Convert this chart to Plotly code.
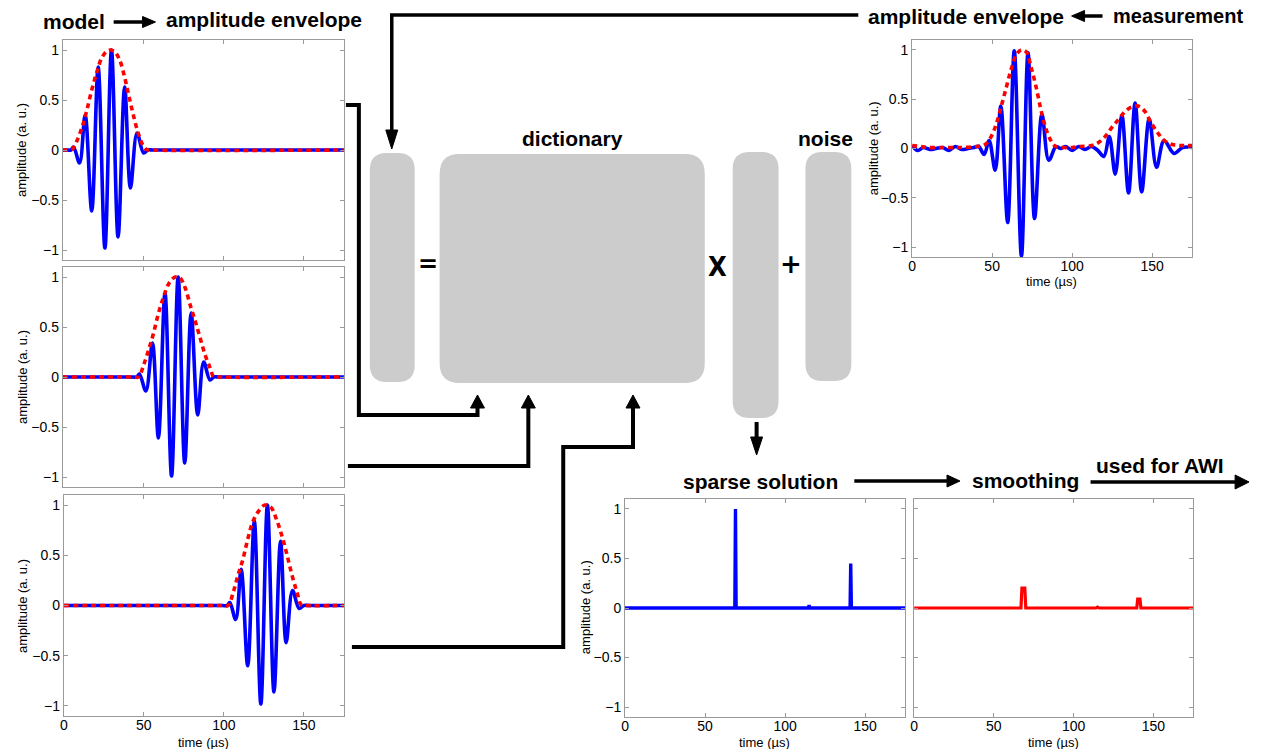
import plotly.graph_objects as go

W, H = 1266, 749

# ---------------- data ----------------
TICK_X = [0, 50, 100, 150]
TICK_Y = [-1, -0.5, 0, 0.5, 1]
TICK_Y_TEXT = ["\u22121", "\u22120.5", "0", "0.5", "1"]

# model wavelet 1 (top left)
tl_t = [0, 3, 5, 6.7, 10.4, 13.9, 18.0, 22.0, 26.2, 30.3, 34.4, 38.5, 42.1, 46.2, 50.3, 53, 56, 175]
tl_y = [0, 0, 0, 0.03, -0.13, 0.35, -0.61, 0.83, -0.98, 1.0, -0.87, 0.63, -0.38, 0.17, -0.03, 0, 0, 0]
tle_t = [0, 3, 5.5, 9, 12.4, 15, 18, 21.2, 24.2, 27.5, 30.0, 32.5, 35.4, 38.3, 41.0, 43.6, 46.7, 49.8, 52.0, 54.5, 175]
tle_y = [0, 0, 0, 0.1, 0.25, 0.4, 0.6, 0.78, 0.92, 0.99, 1.0, 0.98, 0.9, 0.74, 0.55, 0.37, 0.18, 0.05, 0.005, 0, 0]

# model wavelet 2 (middle left)
ml_t = [0, 43, 46, 47.7, 51.7, 55.8, 59.5, 63.6, 67.7, 71.8, 75.9, 79.9, 84.0, 87.7, 91.6, 94, 97, 175]
ml_y = [0, 0, 0, 0.03, -0.14, 0.34, -0.61, 0.84, -0.99, 1.0, -0.86, 0.64, -0.38, 0.15, -0.03, 0, 0, 0]
mle_t = [0, 44, 47.2, 50.3, 53.4, 56.5, 59.6, 62.7, 66.2, 70.0, 73.0, 76.2, 79.3, 82.4, 85.5, 88.6, 91.7, 93.8, 96.5, 175]
mle_y = [0, 0, 0, 0.12, 0.27, 0.44, 0.64, 0.80, 0.94, 1.0, 0.99, 0.89, 0.72, 0.56, 0.39, 0.22, 0.09, 0.005, 0, 0]

# model wavelet 3 (bottom left)
bl_t = [0, 99, 102, 103.7, 107.4, 110.8, 114.9, 119.0, 123.1, 127.2, 131.3, 135.4, 138.9, 142.9, 147.0, 150, 153, 175]
bl_y = [0, 0, 0, 0.03, -0.14, 0.36, -0.60, 0.84, -0.98, 1.0, -0.86, 0.64, -0.37, 0.15, -0.03, 0, 0, 0]
ble_t = [0, 99.5, 102.7, 105.8, 108.8, 111.9, 114.9, 118.0, 121.7, 125.6, 129.3, 132.8, 136.5, 139.5, 142.6, 145.7, 148.4, 151, 175]
ble_y = [0, 0, 0, 0.13, 0.30, 0.46, 0.66, 0.83, 0.94, 1.0, 0.98, 0.86, 0.68, 0.50, 0.30, 0.13, 0.005, 0, 0]

# measurement (top right)
m_t = [0, 3.5, 7, 11, 15, 19, 23, 27, 31, 35, 38.5, 41.6, 45, 48.1, 51.9, 55.4, 59.7, 63.8,
       68.3, 72.4, 76.5, 81.1, 85.4, 89.9, 92.8, 96, 100, 104, 108, 112, 116, 119.8, 123.2,
       126.9, 131, 135.2, 139.3, 143.4, 148.1, 152.7, 157.4, 163.6, 169, 175]
m_y = [0.03, -0.02, 0.01, -0.01, 0.0, 0.01, -0.02, 0.02, -0.01, 0.0, 0.01, 0.02, -0.06, 0.08,
       -0.22, 0.43, -0.75, 0.99, -1.09, 0.97, -0.71, 0.35, -0.12, 0.02, 0.0, 0.02, -0.02, 0.02,
       -0.01, 0.02, -0.02, -0.08, 0.12, -0.26, 0.34, -0.45, 0.46, -0.44, 0.30, -0.19, 0.08,
       -0.05, 0.01, 0.01]
me_t = [0, 5, 10, 20, 30, 40, 45.6, 49.7, 52.8, 55.9, 59, 62, 65.1, 68.2, 71.3, 74.4, 77.5,
        80.5, 83.6, 86.7, 89.7, 95, 100, 105, 112.3, 116.4, 120.5, 124.6, 128.7, 132.8, 137,
        141.1, 145.2, 149.3, 153.4, 157.5, 162.6, 167.8, 175]
me_y = [0.03, 0.02, 0.01, 0.01, 0.01, 0.02, 0.04, 0.13, 0.26, 0.44, 0.63, 0.81, 0.95, 1.0,
        0.98, 0.82, 0.62, 0.39, 0.2, 0.08, 0.02, 0.01, 0.01, 0.02, 0.03, 0.06, 0.12, 0.21,
        0.29, 0.37, 0.42, 0.43, 0.38, 0.26, 0.16, 0.08, 0.04, 0.03, 0.03]

# sparse solution
sp_t = [0, 68.6, 69, 69.4, 114.6, 115, 115.4, 140.6, 141, 141.4, 175]
sp_y = [0, 0, 1.0, 0, 0, 0.03, 0, 0, 0.45, 0, 0]

# smoothed solution
sm_t = [0, 67, 67.6, 69.4, 70, 114, 115, 116, 139.6, 140.2, 141.6, 142.2, 175]
sm_y = [0, 0, 0.2, 0.2, 0, 0, 0.01, 0, 0, 0.09, 0.09, 0, 0]

# ---------------- helpers ----------------
def px(x):
    return x / W

def py(y):
    return 1 - y / H

BLUE = "#0000ff"
RED = "#ff0000"
FRAME = "#9a9a9a"
TITLE_FONT = dict(family="Liberation Sans", size=21, color="black", weight="bold")
TICK_FONT = dict(family="Liberation Sans", size=14, color="black")
LABEL_FONT = dict(family="Liberation Sans", size=13, color="black")

fig = go.Figure()

# panel boxes in pixels: (left, top, right, bottom)
panels = {
    "1": (59, 40, 341, 260),
    "2": (59, 267, 341, 487),
    "3": (60, 495, 341, 716),
    "4": (911, 40, 1192, 257),
    "5": (623, 499, 904, 717),
    "6": (913, 499, 1193, 717),
}
xlabels = {"1": False, "2": False, "3": True, "4": True, "5": True, "6": True}
ylabels = {"1": True, "2": True, "3": True, "4": True, "5": True, "6": False}

for k, (l, t, r, b) in panels.items():
    xa = "xaxis" if k == "1" else "xaxis" + k
    ya = "yaxis" if k == "1" else "yaxis" + k
    fig.layout[xa] = dict(
        domain=[px(l), px(r)], anchor="y" if k == "1" else "y" + k,
        range=[0, 175], tickvals=TICK_X, showticklabels=xlabels[k],
        showline=True, linecolor=FRAME, linewidth=1, mirror="ticks",
        ticks="inside", ticklen=4, tickcolor=FRAME, showgrid=False, zeroline=False,
        tickfont=TICK_FONT, fixedrange=True, ticklabelstandoff=-4,
    )
    fig.layout[ya] = dict(
        domain=[py(b), py(t)], anchor="x" if k == "1" else "x" + k,
        range=[-1.1, 1.1], tickvals=TICK_Y, ticktext=TICK_Y_TEXT,
        showticklabels=ylabels[k],
        showline=True, linecolor=FRAME, linewidth=1, mirror="ticks",
        ticks="inside", ticklen=4, tickcolor=FRAME, showgrid=False, zeroline=False,
        tickfont=TICK_FONT, fixedrange=True,
    )

def ax(k):
    return ("x", "y") if k == "1" else ("x" + k, "y" + k)

def add_wave(k, t, y, color, dash=None, shape="spline", width=3.6):
    xr, yr = ax(k)
    line = dict(color=color, width=width, shape=shape)
    if shape == "spline":
        line["smoothing"] = 1.0
    if dash:
        line["dash"] = dash
    fig.add_trace(go.Scatter(x=t, y=y, mode="lines", line=line, xaxis=xr, yaxis=yr,
                             showlegend=False, hoverinfo="skip"))

DOT = "5px,4px"
add_wave("1", tl_t, tl_y, BLUE)
add_wave("1", tle_t, tle_y, RED, dash=DOT)
add_wave("2", ml_t, ml_y, BLUE)
add_wave("2", mle_t, mle_y, RED, dash=DOT)
add_wave("3", bl_t, bl_y, BLUE)
add_wave("3", ble_t, ble_y, RED, dash=DOT)
add_wave("4", m_t, m_y, BLUE)
add_wave("4", me_t, me_y, RED, dash=DOT)
add_wave("5", sp_t, sp_y, BLUE, shape="linear", width=3.4)
add_wave("6", sm_t, sm_y, RED, shape="linear", width=3.2)

# ---------------- shapes ----------------
shapes = []

def rrect(l, t, r, b, rad, color="#cccccc"):
    pts = [
        f"M {px(l + rad)},{py(t)}",
        f"L {px(r - rad)},{py(t)}",
        f"Q {px(r)},{py(t)} {px(r)},{py(t + rad)}",
        f"L {px(r)},{py(b - rad)}",
        f"Q {px(r)},{py(b)} {px(r - rad)},{py(b)}",
        f"L {px(l + rad)},{py(b)}",
        f"Q {px(l)},{py(b)} {px(l)},{py(b - rad)}",
        f"L {px(l)},{py(t + rad)}",
        f"Q {px(l)},{py(t)} {px(l + rad)},{py(t)}",
        "Z",
    ]
    shapes.append(dict(type="path", xref="paper", yref="paper", path=" ".join(pts),
                       fillcolor=color, line=dict(width=0), layer="below"))

rrect(367, 153, 412, 382, 17)
rrect(437, 154, 703, 383, 20)
rrect(731, 152, 777, 418, 17)
rrect(804, 152, 850, 381, 17)

def polyline(points, width=4):
    d = "M " + " L ".join(f"{px(x)},{py(y)}" for x, y in points)
    shapes.append(dict(type="path", xref="paper", yref="paper", path=d,
                       line=dict(color="black", width=width), fillcolor="rgba(0,0,0,0)"))

def head(tx, ty, direction, length, half):
    if direction == "up":
        p = [(tx, ty), (tx - half, ty + length), (tx + half, ty + length)]
    elif direction == "down":
        p = [(tx, ty), (tx - half, ty - length), (tx + half, ty - length)]
    elif direction == "right":
        p = [(tx, ty), (tx - length, ty - half), (tx - length, ty + half)]
    else:
        p = [(tx, ty), (tx + length, ty - half), (tx + length, ty + half)]
    d = "M " + " L ".join(f"{px(x)},{py(y)}" for x, y in p) + " Z"
    shapes.append(dict(type="path", xref="paper", yref="paper", path=d,
                       fillcolor="black", line=dict(color="black", width=1)))

# connectors from model wavelets to dictionary
polyline([(343, 105), (356, 105), (356, 415), (475, 415), (475, 405)])
head(475, 395, "up", 13, 7)
polyline([(345, 466), (526, 466), (526, 405)])
head(526, 395, "up", 13, 7)
polyline([(349, 647), (561, 647), (561, 447), (631, 447), (631, 405)])
head(631, 395, "up", 13, 7)

# measurement envelope into data vector
polyline([(857, 15), (389, 15), (389, 132)], width=3.5)
head(389, 149, "down", 19, 6)

# solution vector to sparse solution
polyline([(755, 422), (755, 440)], width=4)
head(755, 455, "down", 18, 6)

# title arrows
polyline([(110, 22), (142, 22)], width=3.5)
head(152, 22, "right", 13, 5.5)
polyline([(1102, 16), (1082, 16)], width=3.5)
head(1071, 16, "left", 13, 5.5)
polyline([(853, 481), (948, 481)], width=3.5)
head(959, 481, "right", 13, 6)
polyline([(1090, 482), (1236, 482)], width=3.5)
head(1249, 482, "right", 14, 7)

fig.update_layout(shapes=shapes)

# ---------------- text ----------------
ann = []

def text(x, y, s, font, angle=0):
    ann.append(dict(x=px(x), y=py(y), xref="paper", yref="paper", text=s, showarrow=False,
                    xanchor="center", yanchor="middle", font=font, textangle=angle))

text(70, 21, "model", TITLE_FONT)
text(261, 20, "amplitude envelope", TITLE_FONT)
text(965, 16, "amplitude envelope", TITLE_FONT)
text(1178, 16, "measurement", dict(TITLE_FONT, size=20))
text(570, 138, "dictionary", TITLE_FONT)
text(824, 138, "noise", TITLE_FONT)
text(759, 481, "sparse solution", TITLE_FONT)
text(1025, 480, "smoothing", TITLE_FONT)
text(1160, 465, "used for AWI", TITLE_FONT)

text(425, 264, "=", dict(family="DejaVu Sans", size=24, color="black", weight="bold"))
text(716, 266, "X", dict(family="DejaVu Sans Condensed", size=27, color="black", weight="bold"))
text(789, 264, "+", dict(family="DejaVu Sans", size=26, color="black", weight="bold"))

# axis labels
for (cx, cy) in [(18, 150), (18, 377), (18, 606), (872, 148), (583, 607)]:
    text(cx, cy, "amplitude (a. u.)", LABEL_FONT, angle=-90)
for cx, cy in [(200, 742), (1051, 281), (763, 742), (1053, 742)]:
    text(cx, cy, "time (\u00b5s)", LABEL_FONT)

fig.update_layout(annotations=ann)

fig.update_layout(
    width=W, height=H, margin=dict(l=0, r=0, t=0, b=0),
    paper_bgcolor="white", plot_bgcolor="white", showlegend=False,
)

fig.write_html(
    "out.html",
    config={"displayModeBar": False},
    post_script="document.body.style.margin='0';document.body.style.overflow='hidden';",
)
